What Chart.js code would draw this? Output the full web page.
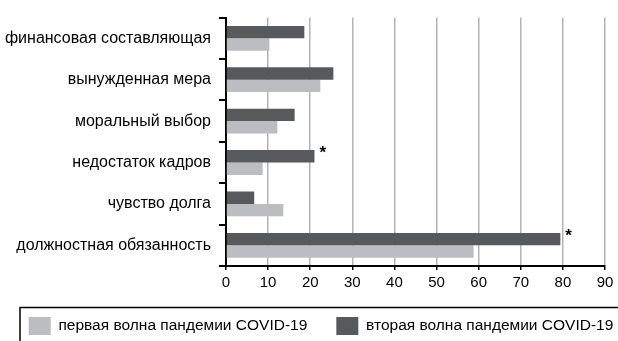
<!DOCTYPE html>
<html>
<head>
<meta charset="utf-8">
<script src="https://cdn.jsdelivr.net/npm/chart.js@4"></script>
<style>
  html, body { margin: 0; padding: 0; background: #fff; }
  #wrap { width: 618px; height: 341px; }
</style>
</head>
<body>
<div id="wrap"><canvas id="myChart"></canvas></div>
<script>
const categories = [
  "финансовая составляющая",
  "вынужденная мера",
  "моральный выбор",
  "недостаток кадров",
  "чувство долга",
  "должностная обязанность",
];
const firstWave = [10.3, 22.4, 12.2, 8.7, 13.6, 58.8];
const secondWave = [18.6, 25.5, 16.3, 21.0, 6.7, 79.4];
// звёздочкой отмечены значимые различия
const starred = [3, 5];

const FONT = "'Liberation Sans', Arial, sans-serif";
Chart.defaults.font.family = FONT;
Chart.defaults.color = "#000";

const asteriskPlugin = {
  id: "asterisks",
  afterDatasetsDraw(chart) {
    const c = chart.ctx;
    const meta = chart.getDatasetMeta(0);
    c.save();
    c.fillStyle = "#000";
    c.font = "bold 17px " + FONT;
    c.textBaseline = "middle";
    starred.forEach((i) => {
      const bar = meta.data[i];
      c.fillText("*", bar.x + 5, bar.y - 3);
    });
    c.restore();
  },
};

// легенда в одну строку, чуть правее центра; рамка уходит за край картинки
const legendBoxPlugin = {
  id: "legendBox",
  afterInit(chart) {
    const lg = chart.legend;
    const origUpdate = lg.update;
    lg.update = function (maxWidth, maxHeight, margins) {
      return origUpdate.call(this, maxWidth + 80, maxHeight, margins);
    };
  },
  afterLayout(chart) {
    chart.legend.left = -3;
    chart.legend.right = 645;
  },
  afterDraw(chart) {
    const c = chart.ctx;
    const lg = chart.legend;
    c.save();
    c.strokeStyle = "#000";
    c.lineWidth = 1.5;
    c.strokeRect(20, lg.top + 19.5, 700, 100);
    c.restore();
  },
};

new Chart(document.querySelector("#myChart"), {
  type: "bar",
  data: {
    labels: categories,
    datasets: [
      {
        label: "вторая волна пандемии COVID-19",
        data: secondWave,
        backgroundColor: "#58595b",
        barPercentage: 1,
        categoryPercentage: 0.6,
      },
      {
        label: "первая волна пандемии COVID-19",
        data: firstWave,
        backgroundColor: "#bcbdc0",
        barPercentage: 1,
        categoryPercentage: 0.6,
      },
    ],
  },
  options: {
    indexAxis: "y",
    responsive: true,
    maintainAspectRatio: false,
    animation: false,
    layout: {
      padding: { left: 2, right: 13, top: 14, bottom: -4 },
    },
    plugins: {
      tooltip: { enabled: false },
      legend: {
        position: "bottom",
        reverse: true,
        labels: {
          boxWidth: 22,
          boxHeight: 18,
          padding: 29,
          color: "#000",
          font: { size: 15.5 },
        },
      },
    },
    scales: {
      x: {
        min: 0,
        max: 90,
        ticks: { stepSize: 10, font: { size: 15 }, padding: 4, color: "#000" },
        grid: {
          color: "#b4b4b4",
          lineWidth: 1.5,
          tickColor: "#000",
          tickLength: 4,
        },
        border: { color: "#000", width: 2 },
        afterFit(scale) {
          scale.height = 22;
        },
      },
      y: {
        ticks: { font: { size: 16 }, padding: 8, color: "#000" },
        grid: {
          offset: true,
          drawOnChartArea: false,
          tickColor: "#000",
          tickLength: 7,
          lineWidth: 2,
        },
        border: { color: "#000", width: 2 },
        afterFit(scale) {
          scale.width = 224;
        },
      },
    },
  },
  plugins: [asteriskPlugin, legendBoxPlugin],
});
</script>
</body>
</html>
